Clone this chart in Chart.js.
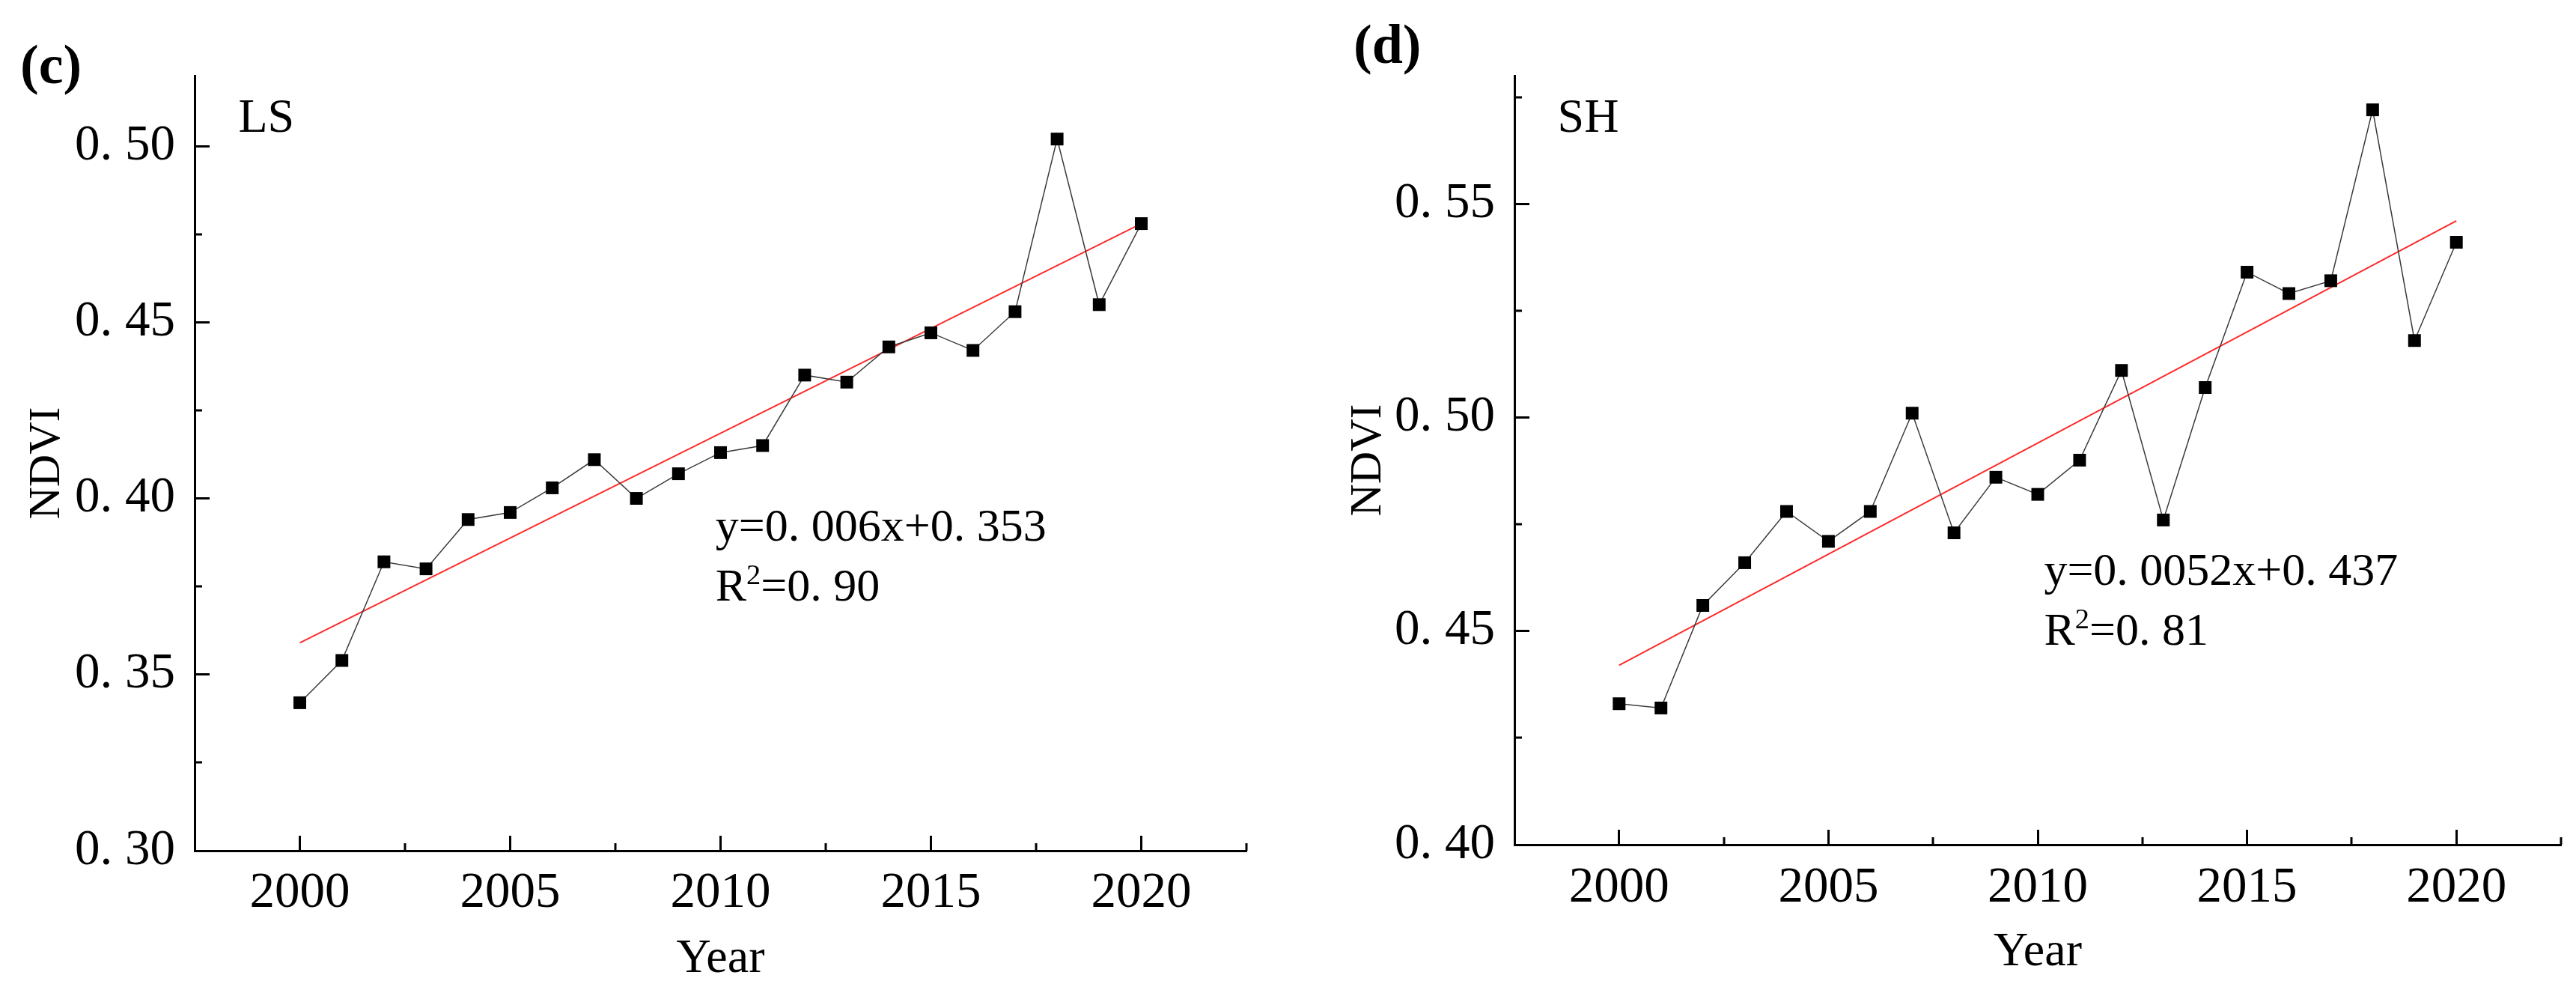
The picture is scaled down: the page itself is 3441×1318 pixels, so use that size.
<!DOCTYPE html>
<html>
<head>
<meta charset="utf-8">
<script src="https://cdn.jsdelivr.net/npm/chart.js@4.4.0/dist/chart.umd.min.js"></script>
<style>
  html, body { margin: 0; padding: 0; background: #fff; }
  #wrap { position: relative; width: 3441px; height: 1318px; }
  canvas { position: absolute; top: 0; }
  #chartLS { left: 0; }
  #chartSH { left: 1720px; }
</style>
</head>
<body>
<div id="wrap">
  <canvas id="chartLS" width="1720" height="1318"></canvas>
  <canvas id="chartSH" width="1721" height="1318"></canvas>
</div>
<script>
// Data
const years = [2000, 2001, 2002, 2003, 2004, 2005, 2006, 2007, 2008, 2009, 2010,
               2011, 2012, 2013, 2014, 2015, 2016, 2017, 2018, 2019, 2020];
const ndviLS = [0.342, 0.354, 0.382, 0.380, 0.394, 0.396, 0.403, 0.411, 0.400, 0.407, 0.413,
                0.415, 0.435, 0.433, 0.443, 0.447, 0.442, 0.453, 0.502, 0.455, 0.478];
const ndviSH = [0.433, 0.432, 0.456, 0.466, 0.478, 0.471, 0.478, 0.501, 0.473, 0.486, 0.482,
                0.490, 0.511, 0.476, 0.507, 0.534, 0.529, 0.532, 0.572, 0.518, 0.541];

// fitted trend lines (end points as drawn)
const trendYears = [2000, 2020];
const trendLS = [0.359, 0.478];
const trendSH = [0.442, 0.546];

// ticks
const xMajor = [2000, 2005, 2010, 2015, 2020];
const xMinor = [2002.5, 2007.5, 2012.5, 2017.5, 2022.5];
const yMajorLS = [0.30, 0.35, 0.40, 0.45, 0.50];
const yMinorLS = [0.325, 0.375, 0.425, 0.475];
const yMajorSH = [0.40, 0.45, 0.50, 0.55];
const yMinorSH = [0.425, 0.475, 0.525, 0.575];

const FONT = '"Liberation Serif", "Times New Roman", serif';

const toPoints = (xs, ys) => xs.map((x, i) => ({ x: x, y: ys[i] }));

// short inward minor ticks, placed with the chart's own scales
const minorTicks = {
    id: 'minorTicks',
    afterDraw(chart, args, opts) {
        const { ctx, chartArea } = chart;
        const xs = chart.scales.x, ys = chart.scales.y;
        ctx.save();
        ctx.strokeStyle = '#000';
        ctx.lineWidth = 3;
        ctx.beginPath();
        opts.x.forEach(v => {
            const px = Math.round(xs.getPixelForValue(v));
            ctx.moveTo(px, chartArea.bottom);
            ctx.lineTo(px, chartArea.bottom - 10);
        });
        opts.y.forEach(v => {
            const py = Math.round(ys.getPixelForValue(v));
            ctx.moveTo(chartArea.left, py);
            ctx.lineTo(chartArea.left + 10, py);
        });
        ctx.stroke();
        ctx.restore();
    }
};

// panel letter, site name and regression text
function drawRich(ctx, parts, x, y, size) {
    let cx = x;
    parts.forEach(p => {
        const s = p.sup ? size * 0.62 : size;
        ctx.font = `${s}px ${FONT}`;
        ctx.fillText(p.t, cx, p.sup ? y - size * 0.36 : y);
        cx += ctx.measureText(p.t).width;
    });
}

const notes = {
    id: 'notes',
    afterDraw(chart, args, opts) {
        const ctx = chart.ctx;
        const xs = chart.scales.x, ys = chart.scales.y;
        ctx.save();
        ctx.fillStyle = '#000';
        ctx.textAlign = 'left';
        ctx.textBaseline = 'alphabetic';

        ctx.font = `bold 74px ${FONT}`;
        ctx.fillText(opts.panel, opts.panelPos[0], opts.panelPos[1]);

        ctx.font = `64px ${FONT}`;
        ctx.fillText(opts.site, xs.getPixelForValue(opts.sitePos[0]), ys.getPixelForValue(opts.sitePos[1]));

        const ex = xs.getPixelForValue(opts.eqPos[0]);
        drawRich(ctx, [{ t: opts.eq }], ex, ys.getPixelForValue(opts.eqPos[1]), 62);
        drawRich(ctx, [{ t: 'R' }, { t: '2', sup: true }, { t: opts.r2 }], ex, ys.getPixelForValue(opts.eqPos[2]), 62);
        ctx.restore();
    }
};

function makeChart(id, cfg) {
    const tickFont = { family: FONT, size: 67 };
    return new Chart(document.getElementById(id), {
        type: 'line',
        data: {
            datasets: [
                {
                    data: toPoints(years, cfg.values),
                    borderColor: '#3a3a3a',
                    borderWidth: 1.5,
                    pointStyle: 'rect',
                    pointRadius: 12,
                    pointBackgroundColor: '#000',
                    pointBorderWidth: 0,
                    tension: 0
                },
                {
                    data: toPoints(trendYears, cfg.trend),
                    borderColor: '#ff2a2a',
                    borderWidth: 2,
                    pointRadius: 0,
                    tension: 0
                }
            ]
        },
        options: {
            responsive: false,
            devicePixelRatio: 1,
            animation: false,
            events: [],
            layout: { padding: { left: 0, right: cfg.padRight, top: 101, bottom: 0 } },
            plugins: {
                legend: { display: false },
                tooltip: { enabled: false },
                minorTicks: { x: xMinor, y: cfg.yMinor },
                notes: cfg.notes
            },
            scales: {
                x: {
                    type: 'linear',
                    min: 1997.5,
                    max: 2022.5,
                    afterBuildTicks: s => { s.ticks = xMajor.map(v => ({ value: v })); },
                    afterFit: s => { s.height = cfg.xHeight; },
                    border: { display: true, color: '#000', width: 3 },
                    grid: { drawOnChartArea: false, drawTicks: true, tickLength: -20, tickWidth: 3, tickColor: '#000' },
                    ticks: { font: tickFont, color: '#000', padding: cfg.xPad, maxRotation: 0, callback: v => String(v) },
                    title: { display: true, text: 'Year', color: '#000',
                             font: { family: FONT, size: 64, lineHeight: 1 }, padding: { top: 0, bottom: cfg.yearPad } }
                },
                y: {
                    type: 'linear',
                    min: cfg.yMin,
                    max: cfg.yMax,
                    afterBuildTicks: s => { s.ticks = cfg.yMajor.map(v => ({ value: v })); },
                    afterFit: s => { s.width = cfg.yWidth; },
                    border: { display: true, color: '#000', width: 3 },
                    grid: { drawOnChartArea: false, drawTicks: true, tickLength: -20, tickWidth: 3, tickColor: '#000' },
                    ticks: { font: tickFont, color: '#000', padding: 46, callback: v => v.toFixed(2).replace('.', '. ') },
                    title: { display: true, text: 'NDVI', color: '#000',
                             font: { family: FONT, size: 60, lineHeight: 1 }, padding: { top: cfg.ndviPad, bottom: 0 } }
                }
            }
        },
        plugins: [minorTicks, notes]
    });
}

makeChart('chartLS', {
    values: ndviLS,
    trend: trendLS,
    yMin: 0.30, yMax: 0.52,
    yMajor: yMajorLS, yMinor: yMinorLS,
    padRight: 55, xHeight: 182, yWidth: 260,
    xPad: 37, yearPad: 5, ndviPad: 33,
    notes: {
        panel: '(c)', panelPos: [27, 111],
        site: 'LS', sitePos: [1998.54, 0.504],
        eq: 'y=0. 006x+0. 353', r2: '=0. 90', eqPos: [2009.88, 0.3881, 0.3709]
    }
});

makeChart('chartSH', {
    values: ndviSH,
    trend: trendSH,
    yMin: 0.40, yMax: 0.58,
    yMajor: yMajorSH, yMinor: yMinorSH,
    padRight: 20, xHeight: 190, yWidth: 303,
    xPad: 38, yearPad: 14, ndviPad: 78,
    notes: {
        panel: '(d)', panelPos: [88, 84],
        site: 'SH', sitePos: [1998.53, 0.5669],
        eq: 'y=0. 0052x+0. 437', r2: '=0. 81', eqPos: [2010.15, 0.4608, 0.4468]
    }
});
</script>
</body>
</html>
